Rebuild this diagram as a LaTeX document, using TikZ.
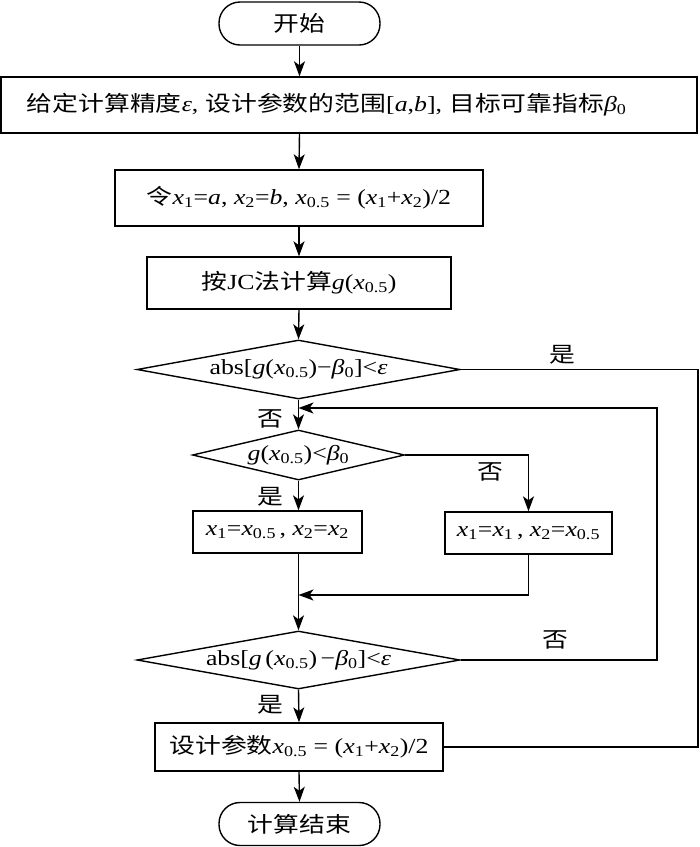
\documentclass[tikz,border=0pt]{standalone}
\usepackage{fontspec}
\setmainfont{Liberation Serif}[FakeStretch=1.2]
\newfontfamily\cjk{Noto Sans CJK SC}[FakeStretch=1.2]
\usetikzlibrary{shapes.geometric,arrows.meta}
\newcommand{\vx}[1]{\textit{x}\textsubscript{#1}}
\tikzset{
  term/.style={draw, rounded corners=21pt, minimum width=161pt, minimum height=43pt, inner sep=0pt},
  box/.style={draw, inner sep=0pt},
  dia/.style={draw, diamond, inner sep=0pt},
  lab/.style={inner sep=0pt},
  arr/.style={-{Stealth[length=15pt,width=11pt,inset=4pt]}},
}
\begin{document}
\begin{tikzpicture}[x=1pt,y=-1pt,line width=1.4pt,font=\fontsize{21.5pt}{25pt}\selectfont]
\useasboundingbox (0,0) rectangle (700,847);
\node[term] (start) at (299.5,23.5) {{\cjk 开始}};
\node[box, minimum height=56pt, text width=644pt, inner xsep=26pt, align=left] (b2) at (349,105)
  {{\cjk 给定计算精度}\textit{ε}, {\cjk 设计参数的范围}[\textit{a},\textit{b}], {\cjk 目标可靠指标}\textit{β}\textsubscript{0}};
\node[box, minimum width=368pt, minimum height=56pt] (b3) at (299,198)
  {{\cjk 令}\vx{1}=\textit{a}, \vx{2}=\textit{b}, \vx{0.5} = (\vx{1}+\vx{2})/2};
\node[box, minimum width=304pt, minimum height=52pt] (b4) at (299,283)
  {{\cjk 按}JC{\cjk 法计算}\textit{g}(\vx{0.5})};
\node[dia, aspect=5.47, minimum width=323pt, minimum height=59pt] (d1) at (298.5,369.5)
  {abs[\textit{g}(\vx{0.5})−\textit{β}\textsubscript{0}]<\textit{ε}};
\node[dia, aspect=4.24, minimum width=212pt, minimum height=50pt] (d2) at (298.5,455)
  {\textit{g}(\vx{0.5})<\textit{β}\textsubscript{0}};
\node[box, minimum width=169pt, minimum height=42pt] (b5) at (277.5,532)
  {\vx{1}=\vx{0.5}\,, \vx{2}=\vx{2}};
\node[box, minimum width=167pt, minimum height=42pt] (b6) at (528.5,533)
  {\vx{1}=\vx{1}\,, \vx{2}=\vx{0.5}};
\node[dia, aspect=5.57, minimum width=323pt, minimum height=58pt] (d3) at (298.5,660)
  {abs[\textit{g}\,(\vx{0.5})\,−\textit{β}\textsubscript{0}]<\textit{ε}};
\node[box, minimum width=288pt, minimum height=48pt] (b7) at (299,747)
  {{\cjk 设计参数}\vx{0.5} = (\vx{1}+\vx{2})/2};
\node[term] (end) at (299.5,824) {{\cjk 计算结束}};
\node[lab] (l1) at (562,355) {{\cjk 是}};
\node[lab] (l2) at (270,419) {{\cjk 否}};
\node[lab] (l3) at (270,497) {{\cjk 是}};
\node[lab] (l4) at (490,472) {{\cjk 否}};
\node[lab] (l5) at (555,640) {{\cjk 否}};
\node[lab] (l6) at (270,705) {{\cjk 是}};
\coordinate (rc) at (698,0);
\coordinate (lc) at (657,0);
\coordinate (lj) at (298.5,408);
\coordinate (mj) at (298.5,595);
\draw[arr] (start.south) -- (start.south |- b2.north);
\draw[arr] (start.south |- b2.south) -- (b3.north);
\draw[arr] (b3.south) -- (b4.north);
\draw[arr] (b4.south) -- (d1.north);
\draw[arr] (d1.south) -- (d2.north);
\draw (d1.east) -- (d1.east -| rc) -- (b7.east -| rc) -- (b7.east);
\draw[arr] (d2.south) -- (d2.south |- b5.north);
\draw[arr] (d2.east) -| (b6.north);
\draw[arr] (d2.south |- b5.south) -- (d3.north);
\draw[arr] (b6.south) -- (b6.south |- mj) -- (mj);
\draw[arr] (d3.east) -- (d3.east -| lc) -- (lc |- lj) -- (lj);
\draw[arr] (d3.south) -- (b7.north);
\draw[arr] (b7.south) -- (end.north);
\end{tikzpicture}
\end{document}
